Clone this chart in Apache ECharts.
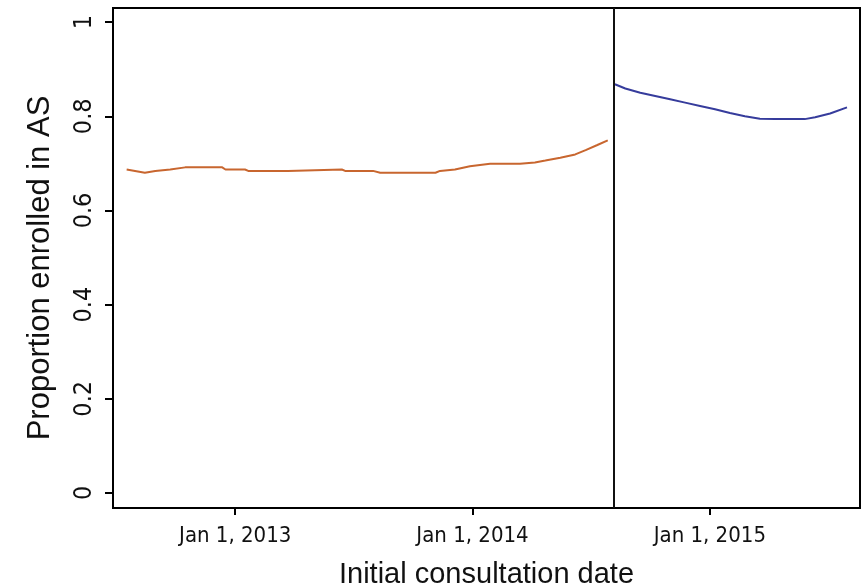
<!DOCTYPE html>
<html>
<head>
<meta charset="utf-8">
<script src="https://cdn.jsdelivr.net/npm/echarts@6/dist/echarts.min.js"></script>
<style>
  html, body { margin: 0; padding: 0; background: #fff; }
  #chart { width: 864px; height: 585px; }
</style>
</head>
<body>
<div id="chart"></div>
<script>
// Smoothed enrolment proportion before the policy change
const beforeDates = ['2012-07-18','2012-08-15','2012-08-31','2012-09-23','2012-10-16','2012-12-12',
  '2012-12-17','2013-01-16','2013-01-21','2013-03-23','2013-03-26','2013-06-14','2013-06-19',
  '2013-08-01','2013-08-12','2013-11-05','2013-11-12','2013-12-05','2013-12-28','2014-01-28',
  '2014-03-15','2014-04-07','2014-04-23','2014-05-16','2014-06-08','2014-06-24','2014-07-12','2014-07-28'];
const beforeValues = [0.687,0.680,0.684,0.687,0.6915,0.6915,
  0.687,0.687,0.684,0.684,0.687,0.687,0.684,
  0.684,0.680,0.680,0.684,0.687,0.694,0.699,
  0.699,0.702,0.706,0.712,0.719,0.728,0.739,0.749];

// Smoothed enrolment proportion after the policy change
const afterDates = ['2014-08-08','2014-08-24','2014-09-16','2014-10-09','2014-11-01','2014-11-24',
  '2014-12-17','2015-01-09','2015-02-01','2015-02-24','2015-03-19','2015-04-11','2015-05-04',
  '2015-05-27','2015-06-12','2015-07-05','2015-07-31'];
const afterValues = [0.868,0.859,0.850,0.843,0.836,0.829,
  0.822,0.815,0.807,0.800,0.795,0.794,0.794,
  0.794,0.798,0.806,0.819];

const changeDate = '2014-08-06';
const xTickDates = ['2013-01-01','2014-01-01','2015-01-01'];
const yTicks = [0, 0.2, 0.4, 0.6, 0.8, 1];

const toTs = d => new Date(d + 'T00:00:00Z').getTime();
const months = ['Jan','Feb','Mar','Apr','May','Jun','Jul','Aug','Sep','Oct','Nov','Dec'];
const tickFont = "'Liberation Sans Narrow', 'DejaVu Sans Condensed', 'Liberation Sans', sans-serif";
const titleFont = "'Liberation Sans', Arial, sans-serif";

const chart = echarts.init(document.getElementById('chart'), null, { renderer: 'canvas' });

chart.setOption({
  animation: false,
  backgroundColor: '#ffffff',
  grid: {
    left: 113, right: 4, top: 8, bottom: 77,
    outerBoundsMode: 'none',
    containLabel: false,
    show: true, borderColor: '#000', borderWidth: 2, backgroundColor: 'transparent'
  },
  xAxis: {
    // dates are plotted as UTC timestamps on a linear scale
    type: 'value',
    min: toTs('2012-06-27'),
    max: toTs('2015-08-20'),
    name: 'Initial consultation date',
    nameLocation: 'middle',
    nameGap: 52,
    nameTextStyle: { fontFamily: titleFont, fontSize: 29, color: '#111' },
    axisLine: { show: false, onZero: false },
    splitLine: { show: false },
    axisTick: {
      show: true, length: 7, inside: false,
      lineStyle: { color: '#000', width: 2 },
      customValues: xTickDates.map(toTs)
    },
    axisLabel: {
      customValues: xTickDates.map(toTs),
      margin: 17,
      fontFamily: tickFont, fontSize: 22, color: '#111',
      formatter: v => {
        const d = new Date(v);
        return months[d.getUTCMonth()] + ' ' + d.getUTCDate() + ', ' + d.getUTCFullYear();
      }
    }
  },
  yAxis: {
    type: 'value',
    min: -0.032,
    max: 1.03,
    name: 'Proportion enrolled in AS',
    nameLocation: 'middle',
    nameGap: 57,
    nameTextStyle: { fontFamily: titleFont, fontSize: 31, color: '#111', padding: [0, 20, 0, 0] },
    axisLine: { show: false, onZero: false },
    splitLine: { show: false },
    axisTick: {
      show: true, length: 8, inside: false,
      lineStyle: { color: '#000', width: 2 },
      customValues: yTicks
    },
    axisLabel: {
      customValues: yTicks,
      rotate: 90,
      margin: 16,
      fontFamily: tickFont, fontSize: 25, color: '#111',
      formatter: v => String(Number(v.toFixed(1)))
    }
  },
  series: [
    {
      name: 'Before',
      type: 'line',
      data: beforeDates.map((d, i) => [toTs(d), beforeValues[i]]),
      showSymbol: false,
      lineStyle: { color: '#c8662f', width: 2 },
      markLine: {
        silent: true,
        symbol: 'none',
        label: { show: false },
        lineStyle: { color: '#111', width: 2, type: 'solid' },
        data: [{ xAxis: toTs(changeDate) }]
      }
    },
    {
      name: 'After',
      type: 'line',
      data: afterDates.map((d, i) => [toTs(d), afterValues[i]]),
      showSymbol: false,
      lineStyle: { color: '#363c9c', width: 2 }
    }
  ]
});
</script>
</body>
</html>
